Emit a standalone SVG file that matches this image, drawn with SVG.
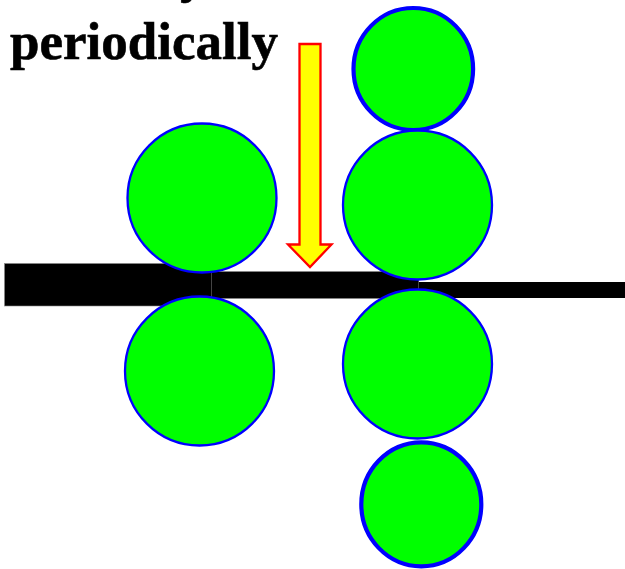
<svg xmlns="http://www.w3.org/2000/svg" width="625" height="569" viewBox="0 0 625 569">
<style>
.roll{fill:#00ff00;stroke:#0000ff;stroke-width:2.3}
.thick{stroke-width:4.2}
.t{font-family:"Liberation Serif","Times New Roman",serif;font-weight:bold;font-size:53px;fill:#000;stroke:#000;stroke-width:0.6}
.seam{stroke:#444;stroke-width:1}
</style>
<g id="strip">
<rect x="4.500" y="263.500" width="207" height="42.500" fill="#000" stroke="#888" stroke-width="0.6"/>
<rect x="211.500" y="271.500" width="207" height="27" fill="#000" stroke="#888" stroke-width="0.6"/>
<rect x="418.500" y="282" width="207" height="16" fill="#000"/>
<line class="seam" x1="211.500" y1="272" x2="211.500" y2="297"/>
<line class="seam" x1="418.500" y1="280" x2="418.500" y2="289"/>
</g>
<g id="roll-left-top"><circle class="roll" cx="202" cy="198" r="74.500"/></g>
<g id="roll-left-bottom"><circle class="roll" cx="199.500" cy="371" r="74.500"/></g>
<g id="backup-top"><ellipse class="roll thick" cx="413.300" cy="69" rx="59.800" ry="61"/></g>
<g id="roll-right-top"><circle class="roll" cx="417.500" cy="205" r="74.500"/></g>
<g id="roll-right-bottom"><circle class="roll" cx="417.500" cy="364" r="74.500"/></g>
<g id="backup-bottom"><ellipse class="roll thick" cx="421.300" cy="504.300" rx="60" ry="62"/></g>
<g id="arrow"><polygon points="299.500,44 320.500,44 320.500,244.500 331.500,244.500 310,267 288,244.500 299.500,244.500" fill="#ffff00" stroke="#ff0000" stroke-width="2.300"/></g>
<g id="label">
<text class="t" x="10" y="59">periodically</text>
<text class="t" x="180" y="-8">y</text>
</g>
</svg>
